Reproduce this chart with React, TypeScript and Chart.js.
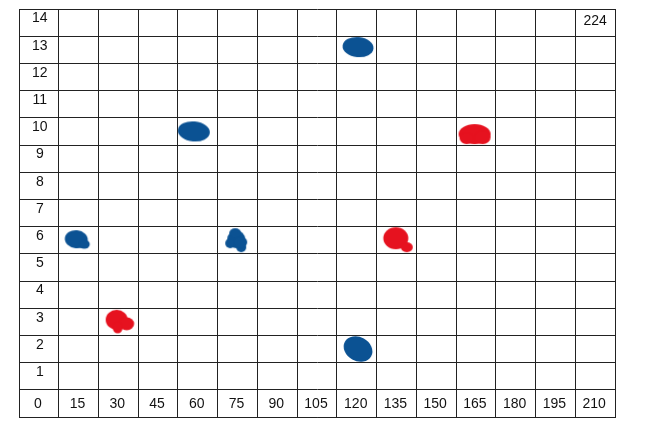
import React, { useEffect, useRef } from "react";
import { Chart, registerables } from "chart.js";

Chart.register(...registerables);

const xTickLabels = ["0", "15", "30", "45", "60", "75", "90", "105", "120", "135", "150", "165", "180", "195", "210"];
const yTickLabels = ["0", "1", "2", "3", "4", "5", "6", "7", "8", "9", "10", "11", "12", "13", "14"];
const cornerLabel = "224";

const blueX = [22, 66, 82, 128, 128];
const blueY = [6.5, 10.5, 6.5, 13.6, 2.5];
const redX = [38, 143, 172];
const redY = [3.5, 6.5, 10.4];

const BLUE = "#0b5293";
const RED = "#e6121f";

// blob shapes (style only): ellipses [cx, cy, rx, ry, rot] relative to the point, in px
type Lobe = [number, number, number, number, number];
const blueShapes: Lobe[][] = [
  [[-1, -1, 11.5, 9, 0.1], [7, 4, 5.5, 4.5, 0]],
  [[0, 0, 16, 10, 0.1]],
  [[0, -1, 9, 9, 0], [-1, -7, 6, 5, 0], [-6, 3, 5, 5, 0], [5, 7, 5, 5, 0], [4, 2, 7, 6, 0]],
  [[0, 0, 15.5, 10, 0.1]],
  [[0, 0, 15, 12, 0.5]],
];
const redShapes: Lobe[][] = [
  [[-3, -2, 11, 10, 0], [7, 2, 7.5, 6.5, 0], [-2, 6, 5, 5.5, 0]],
  [[-2, -2, 12.5, 11, 0], [9, 7, 6, 5, 0]],
  [[0, 0, 16, 10, 0], [-8, 4, 7, 6, 0], [8, 3, 8, 7, 0]],
];

function makeBlob(lobes: Lobe[], color: string): HTMLCanvasElement {
  const S = 44;
  const c = document.createElement("canvas");
  c.width = S;
  c.height = S;
  const ctx = c.getContext("2d")!;
  ctx.fillStyle = color;
  lobes.forEach(([cx, cy, rx, ry, rot]) => {
    ctx.beginPath();
    ctx.ellipse(S / 2 + cx, S / 2 + cy, rx, ry, rot, 0, Math.PI * 2);
    ctx.fill();
  });
  return c;
}

const cellLabels = {
  id: "cellLabels",
  afterDatasetsDraw(chart: any) {
    const { ctx, scales } = chart;
    const xs = scales.x;
    const ys = scales.y;
    ctx.save();
    ctx.fillStyle = "#111";
    ctx.font = "14px 'Liberation Sans', Arial, sans-serif";
    ctx.textAlign = "center";
    ctx.textBaseline = "middle";
    const colCenter = (k: number) => xs.getPixelForValue(15 * k + 7.5);
    const rowCenter = (n: number) => ys.getPixelForValue(n + 0.5);
    yTickLabels.forEach((t, n) => {
      if (n === 0) return;
      ctx.fillText(t, colCenter(0) + 1, rowCenter(n) - 4);
    });
    xTickLabels.forEach((t, k) => {
      ctx.fillText(t, colCenter(k) - 1, rowCenter(0) + 1);
    });
    ctx.fillText(cornerLabel, colCenter(14), rowCenter(14) - 1);
    ctx.restore();
  },
};

export default function App() {
  const ref = useRef<HTMLCanvasElement>(null);
  useEffect(() => {
    if (!ref.current) return;
    const chart = new Chart(ref.current, {
      type: "scatter",
      data: {
        datasets: [
          {
            data: blueX.map((x, i) => ({ x, y: blueY[i] })),
            pointStyle: blueShapes.map((s) => makeBlob(s, BLUE)) as any,
            backgroundColor: BLUE,
          },
          {
            data: redX.map((x, i) => ({ x, y: redY[i] })),
            pointStyle: redShapes.map((s) => makeBlob(s, RED)) as any,
            backgroundColor: RED,
          },
        ],
      },
      options: {
        animation: false,
        responsive: true,
        maintainAspectRatio: false,
        layout: { padding: { left: 19, top: 9, right: 35, bottom: 22 } },
        plugins: { legend: { display: false }, tooltip: { enabled: false } },
        scales: {
          x: {
            type: "linear",
            min: 0,
            max: 225,
            ticks: { display: false, stepSize: 15 },
            grid: { color: "#222", lineWidth: 1, drawTicks: false },
            border: { display: true, color: "#222" },
          },
          y: {
            type: "linear",
            min: 0,
            max: 15,
            ticks: { display: false, stepSize: 1 },
            grid: { color: "#222", lineWidth: 1, drawTicks: false },
            border: { display: true, color: "#222" },
          },
        },
      },
      plugins: [cellLabels],
    });
    return () => chart.destroy();
  }, []);
  return (
    <div style={{ position: "fixed", left: 0, top: 0, width: 650, height: 439, background: "#fff" }}>
      <canvas ref={ref} />
    </div>
  );
}
